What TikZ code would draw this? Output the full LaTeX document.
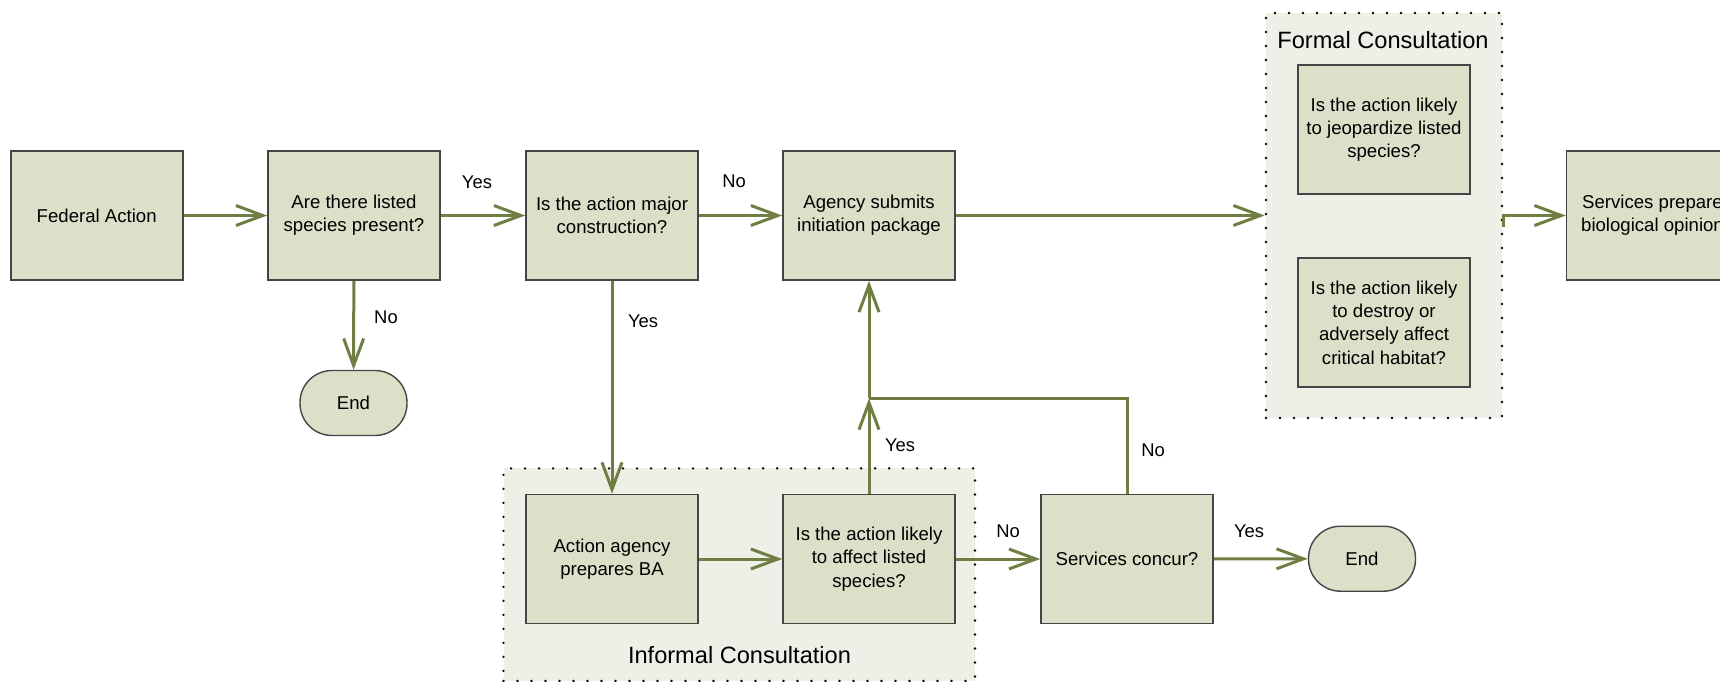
\documentclass[tikz,border=0pt]{standalone}
\usepackage{fontspec}
\setmainfont{Liberation Sans}
\usetikzlibrary{arrows.meta}
\definecolor{boxfill}{HTML}{DCE0C8}
\definecolor{grpfill}{HTML}{EEEFE6}
\definecolor{arr}{HTML}{6F7E43}
\definecolor{bord}{HTML}{454545}
\begin{document}
\begin{tikzpicture}[x=1pt,y=-1pt,
  stepbox/.style={draw=bord, line width=1.6pt, fill=boxfill, minimum width=172pt, minimum height=129pt, align=center, inner sep=0pt, font=\fontsize{18.6}{23.3}\selectfont},
  endbox/.style={draw=bord, line width=1.4pt, fill=boxfill, rounded corners=32pt, minimum width=107pt, minimum height=65pt, inner sep=0pt, font=\fontsize{18.6}{23.3}\selectfont},
  grp/.style={fill=grpfill, draw=black, line width=2.6pt, dash pattern=on 0pt off 14pt, line cap=round, inner sep=0pt},
  flow/.style={draw=arr, line width=3pt, -{Straight Barb[length=27pt, width=20pt]}},
  plain/.style={draw=arr, line width=3pt},
  lbl/.style={font=\fontsize{18.4}{22}\selectfont, inner sep=0pt},
  grplbl/.style={inner sep=0pt, font=\fontsize{23.6}{28}\selectfont}]
\useasboundingbox (0,0) rectangle (1720,681);
\clip (0,0) rectangle (1720,681);
% containers
\node[grp, minimum width=236pt, minimum height=405pt] (formal) at (1384,215.5) {};
\node[grp, minimum width=471.5pt, minimum height=212.6pt] (informal) at (739.25,574.7) {};
\node[grplbl] (formallbl) at (1383,40) {Formal Consultation};
\node[grplbl] (informallbl) at (739.5,655) {Informal Consultation};
% boxes
\node[stepbox] (fed) at (96.7,215.5) {Federal Action};
\node[stepbox] (spec) at (354,215.5) {Are there listed\\species present?};
\node[stepbox] (major) at (612,215.5) {Is the action major\\construction?};
\node[stepbox] (agency) at (869,215.5) {Agency submits\\initiation package};
\node[endbox] (end1) at (353.5,403) {End};
\node[stepbox] (prep) at (612,559) {Action agency\\prepares BA};
\node[stepbox] (likely) at (869,559) {Is the action likely\\to affect listed\\species?};
\node[stepbox] (concur) at (1127,559) {Services concur?};
\node[endbox] (end2) at (1362,558.7) {End};
\node[stepbox] (jeop) at (1384,129.5) {Is the action likely\\to jeopardize listed\\species?};
\node[stepbox] (habitat) at (1384,322.5) {Is the action likely\\to destroy or\\adversely affect\\critical habitat?};
\node[stepbox] (serv) at (1652.5,215.5) {Services prepare\\biological opinion};
\coordinate (junc) at (869,398.3);
% connectors
\draw[flow] (fed) -- (spec);
\draw[flow] (spec) -- (major);
\draw[flow] (spec) -- (end1);
\draw[flow] (major) -- (agency);
\draw[flow] (major) -- (prep);
\draw[flow] (agency) -- (formal.west);
\draw[flow] (prep) -- (likely);
\draw[flow] (likely) -- (concur);
\draw[flow] (concur) -- (end2);
\draw[flow] (likely.north) -- (junc);
\draw[plain] (concur.north) |- (junc);
\draw[flow] (junc) -- (agency.south);
\draw[flow] ([yshift=-11pt]formal.east) -- (formal.east) -- (serv.west);
% labels
\node[lbl] (l1) at (477,182) {Yes};
\node[lbl] (l2) at (386,317) {No};
\node[lbl] (l3) at (734,181) {No};
\node[lbl] (l4) at (643,321) {Yes};
\node[lbl] (l5) at (900,445) {Yes};
\node[lbl] (l6) at (1008,531) {No};
\node[lbl] (l7) at (1153,450) {No};
\node[lbl] (l8) at (1249,531) {Yes};
\end{tikzpicture}
\end{document}
